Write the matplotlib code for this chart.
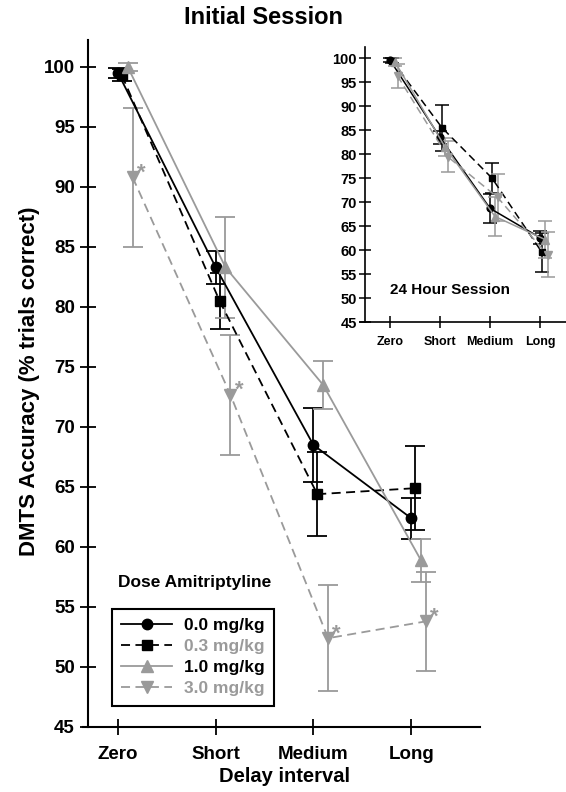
import matplotlib
matplotlib.use("Agg")
import matplotlib.pyplot as plt
import numpy as np

plt.rcParams['font.family'] = ['Liberation Sans', 'DejaVu Sans']
plt.rcParams['font.weight'] = 'bold'

delays = ["Zero", "Short", "Medium", "Long"]
doses = ["0.0 mg/kg", "0.3 mg/kg", "1.0 mg/kg", "3.0 mg/kg"]

# initial session (mean, error)
init_00 = [99.5, 83.3, 68.5, 62.4]
init_00_err = [0.4, 1.4, 3.1, 1.7]
init_03 = [99.3, 80.5, 64.4, 64.9]
init_03_err = [0.5, 2.3, 3.5, 3.5]
init_10 = [100.0, 83.3, 73.5, 58.9]
init_10_err = [0.3, 4.2, 2.0, 1.8]
init_30 = [90.8, 72.7, 52.4, 53.8]
init_30_err = [5.8, 5.0, 4.4, 4.1]
signif_30 = [True, True, True, True]

# 24 hour session
day_00 = [99.6, 83.5, 68.7, 62.6]
day_00_err = [0.4, 1.3, 3.0, 1.3]
day_03 = [99.5, 85.5, 75.0, 59.5]
day_03_err = [0.5, 4.8, 3.2, 4.1]
day_10 = [99.2, 81.5, 67.0, 62.2]
day_10_err = [0.8, 1.8, 4.0, 3.9]
day_30 = [96.3, 79.5, 71.0, 59.0]
day_30_err = [2.5, 3.2, 4.9, 4.7]

gray = "#9a9a9a"
styles = [
    dict(color="black", ls="-", marker="o", ms=7.5),
    dict(color="black", ls=(0, (5, 3)), marker="s", ms=6.5),
    dict(color=gray, ls="-", marker="^", ms=8),
    dict(color=gray, ls=(0, (5, 3)), marker="v", ms=8),
]
offsets = [0.0, 0.04, 0.1, 0.15]

fig = plt.figure(figsize=(5.66, 7.92), dpi=100)

# ---- main panel ----
ax = fig.add_axes([0.1555, 0.0821, 0.6926, 0.8674])
x = np.arange(len(delays))
handles = []
for vals, errs, st, off in zip([init_00, init_03, init_10, init_30],
                               [init_00_err, init_03_err, init_10_err, init_30_err],
                               styles, offsets):
    xs = x + off
    ax.errorbar(xs, vals, yerr=errs, fmt="none", ecolor=st["color"],
                elinewidth=1.3, capsize=7, capthick=1.3, zorder=2)
    h, = ax.plot(xs, vals, color=st["color"], ls=st["ls"], lw=1.3,
                 marker=st["marker"], ms=st["ms"], mfc=st["color"],
                 mec=st["color"], zorder=3)
    handles.append(h)

for xi, yi, s in zip(x + offsets[3], init_30, signif_30):
    if s:
        ax.annotate("*", (xi, yi), xytext=(3, 3), textcoords="offset points",
                    color=gray, fontsize=16, ha="left", va="center")

ax.set_xlim(-0.307, 3.705)
ax.set_ylim(45, 102.25)
ax.set_yticks(np.arange(45, 101, 5))
ax.set_xticks(x)
ax.set_xticklabels(delays)
for s in ["top", "right"]:
    ax.spines[s].set_visible(False)
for s in ["left", "bottom"]:
    ax.spines[s].set_linewidth(1.5)
ax.spines["bottom"].set_bounds(-0.36, 3.705)
ax.tick_params(axis="both", direction="inout", length=11, width=1.3,
               labelsize=13.5, pad=4)
ax.tick_params(axis="x", pad=8)
ax.set_xlabel("Delay interval", fontsize=14.5, fontweight="bold", labelpad=3)
fig.text(0.052, 0.519, "DMTS Accuracy (% trials correct)", rotation=90,
         ha="center", va="center", fontsize=16, fontweight="bold")
fig.text(0.465, 0.978, "Initial Session", ha="center", va="center",
         fontsize=17, fontweight="bold")

leg = ax.legend(handles, doses, loc="lower left", bbox_to_anchor=(0.061, 0.0306),
                borderaxespad=0, fancybox=False, edgecolor="black",
                framealpha=1, fontsize=12.5, handlelength=2.9,
                handletextpad=0.7, labelspacing=0.34, borderpad=0.55)
leg.get_frame().set_linewidth(1.5)
for t, c in zip(leg.get_texts(), ["black", gray, "black", gray]):
    t.set_color(c)
ax.text(0.273, 0.2096, "Dose Amitriptyline", transform=ax.transAxes,
        ha="center", va="center", fontsize=12.5, fontweight="bold")

# ---- inset: 24 hour session ----
ins = fig.add_axes([0.645, 0.5934, 0.355, 0.347])
for vals, errs, st, off in zip([day_00, day_03, day_10, day_30],
                               [day_00_err, day_03_err, day_10_err, day_30_err],
                               styles, offsets):
    xs = x + off
    ins.errorbar(xs, vals, yerr=errs, fmt="none", ecolor=st["color"],
                 elinewidth=1.1, capsize=5, capthick=1.1, zorder=2)
    ins.plot(xs, vals, color=st["color"], ls=st["ls"], lw=1.1,
             marker=st["marker"], ms=st["ms"] * 0.65, mfc=st["color"],
             mec=st["color"], zorder=3)
ins.set_xlim(-0.5, 3.52)
ins.set_ylim(45, 102.3)
ins.set_yticks(np.arange(45, 101, 5))
ins.set_xticks(x)
ins.set_xticklabels(delays)
for s in ["top", "right"]:
    ins.spines[s].set_visible(False)
for s in ["left", "bottom"]:
    ins.spines[s].set_linewidth(1.2)
ins.spines["bottom"].set_bounds(-0.6, 3.52)
ins.tick_params(axis="both", direction="inout", length=8, width=1.1,
                labelsize=10.5, pad=2)
ins.tick_params(axis="x", labelsize=9, pad=6)
ins.text(0.0, 51.7, "24 Hour Session", ha="left", va="center",
         fontsize=11, fontweight="bold")

fig.savefig("out.png", dpi=100)
